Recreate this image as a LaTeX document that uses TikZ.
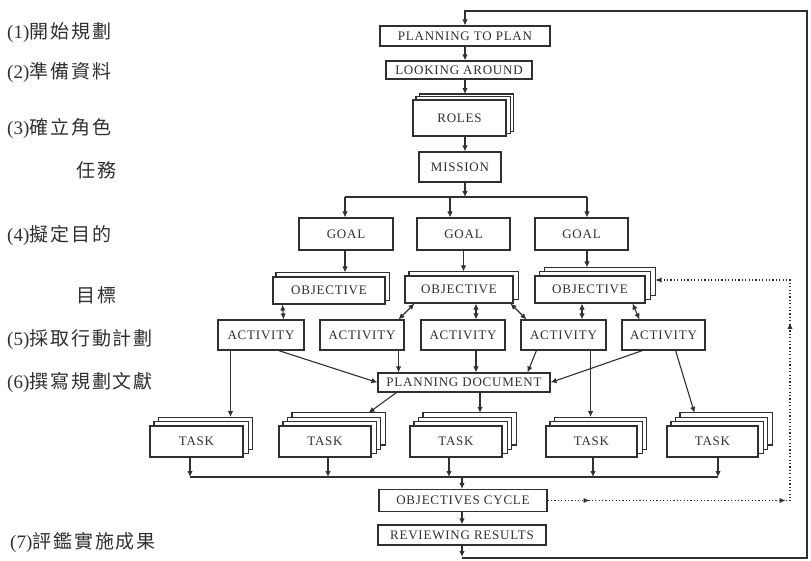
\documentclass[tikz,border=0pt]{standalone}
\usepackage{fontspec}
\setmainfont{Liberation Serif}
\newfontfamily\cjkfont[LetterSpace=10]{Noto Sans CJK TC}
\newfontfamily\boxfamily[LetterSpace=6]{Liberation Serif}
\usetikzlibrary{arrows.meta,calc,backgrounds,decorations.markings}

\definecolor{ink}{HTML}{303030}

\tikzset{
  box/.style={draw=ink, fill=white, line width=1.1pt, inner sep=0pt, text=ink,
    font=\boxfamily\fontsize{13}{13}\selectfont},
  stackcopy/.style={draw=ink, fill=white, line width=1.1pt},
  link/.style={draw=ink, line width=1.1pt},
  tip/.tip={Latex[length=6pt,width=5.5pt]},
  arr/.style={link, -tip},
  twoway/.style={link, tip-tip},
  dotline/.style={draw=ink, line width=1.2pt, dash pattern=on 1.2pt off 2.2pt},
  lab/.style={inner sep=0pt, text=ink, font=\fontsize{19}{19}\selectfont},
}

% copies stacked up and to the right behind a box: node, count, dx, dy
\newcommand\stackbehind[4]{%
  \foreach \k in {#2,...,1}{%
    \draw[stackcopy] ($(#1.south west)+(#3*\k,-#4*\k)$) rectangle ($(#1.north east)+(#3*\k,-#4*\k)$);
  }}

\begin{document}
\begin{tikzpicture}[x=1pt,y=-1pt]
\useasboundingbox (0,0) rectangle (811,561);

% ---- step labels ----
\node[lab, anchor=west] (l1) at (7,33)  {(1)\cjkfont 開始規劃};
\node[lab, anchor=west] (l2) at (7,72)  {(2)\cjkfont 準備資料};
\node[lab, anchor=west] (l3) at (7,128) {(3)\cjkfont 確立角色};
\node[lab, anchor=east] (lm) at (117,170) {\cjkfont 任務};
\node[lab, anchor=west] (l4) at (7,235) {(4)\cjkfont 擬定目的};
\node[lab, anchor=east] (lo) at (117,295) {\cjkfont 目標};
\node[lab, anchor=west] (l5) at (7,340) {(5)\cjkfont 採取行動計劃};
\node[lab, anchor=west] (l6) at (7,382) {(6)\cjkfont 撰寫規劃文獻};
\node[lab, anchor=west] (l7) at (10,542) {(7)\cjkfont 評鑑實施成果};

% ---- boxes ----
\node[box, minimum width=170, minimum height=20] (ptp) at (465,36) {PLANNING TO PLAN};
\node[box, minimum width=146, minimum height=18] (look) at (459,70) {LOOKING AROUND};
\node[box, minimum width=93, minimum height=36] (roles) at (459.5,118) {ROLES};
\node[box, minimum width=82, minimum height=30] (mission) at (460,167) {MISSION};

\node[box, minimum width=94, minimum height=32] (goal1) at (346,234) {GOAL};
\node[box, minimum width=93, minimum height=32] (goal2) at (463.5,234) {GOAL};
\node[box, minimum width=93, minimum height=32] (goal3) at (581.5,234) {GOAL};

\node[box, minimum width=112, minimum height=27] (obj1) at (329,290.5) {OBJECTIVE};
\node[box, minimum width=108, minimum height=27] (obj2) at (459,289.5) {OBJECTIVE};
\node[box, minimum width=110, minimum height=27] (obj3) at (590,289.5) {OBJECTIVE};

\node[box, minimum width=86, minimum height=30] (act1) at (261,335) {ACTIVITY};
\node[box, minimum width=84, minimum height=30] (act2) at (362,335) {ACTIVITY};
\node[box, minimum width=84, minimum height=30] (act3) at (463,335) {ACTIVITY};
\node[box, minimum width=85, minimum height=30] (act4) at (563.5,335) {ACTIVITY};
\node[box, minimum width=83, minimum height=30] (act5) at (663.5,335) {ACTIVITY};

\node[box, minimum width=172, minimum height=19] (pd) at (464,382.5) {PLANNING DOCUMENT};

\node[box, minimum width=93, minimum height=31] (task1) at (196.5,441.5) {TASK};
\node[box, minimum width=92, minimum height=31] (task2) at (325,441.5) {TASK};
\node[box, minimum width=92, minimum height=31] (task3) at (456,441.5) {TASK};
\node[box, minimum width=91, minimum height=31] (task4) at (591.5,441.5) {TASK};
\node[box, minimum width=91, minimum height=31] (task5) at (712.5,441.5) {TASK};

\node[box, minimum width=168, minimum height=22] (oc) at (463,500.5) {OBJECTIVES CYCLE};
\node[box, minimum width=168, minimum height=20] (rr) at (462,535) {REVIEWING RESULTS};

% ---- stacked copies behind the multiple boxes ----
\begin{scope}[on background layer]
  \stackbehind{roles}{2}{3.5}{2.7}
  \stackbehind{obj1}{1}{3.5}{4}
  \stackbehind{obj2}{1}{4.5}{4}
  \stackbehind{obj3}{2}{5}{4}
  \stackbehind{task1}{2}{4.5}{4.2}
  \stackbehind{task2}{3}{4.5}{4.2}
  \stackbehind{task3}{3}{4.5}{4.2}
  \stackbehind{task4}{2}{4.5}{4.2}
  \stackbehind{task5}{3}{4.5}{4.2}
\end{scope}

% ---- top spine ----
\draw[arr] (ptp.south) -- (ptp.south |- look.north);
\draw[arr] (ptp.south |- look.south) -- ($(ptp.south |- roles.north)+(0,-5.4)$);
\draw[arr] (ptp.south |- roles.south) -- (ptp.south |- mission.north);

% ---- mission to goals ----
\coordinate (gbusL) at (345,197);
\coordinate (gbusM) at (450,197);
\coordinate (gbusR) at (587,197);
\draw[arr] (ptp.south |- mission.south) -- (ptp.south |- gbusL);
\draw[link] (gbusL) -- (gbusR);
\draw[arr] (gbusL) -- (gbusL |- goal1.north);
\draw[arr] (gbusM) -- (gbusM |- goal2.north);
\draw[arr] (gbusR) -- (gbusR |- goal3.north);

% ---- goals to objectives ----
\draw[arr] (gbusL |- goal1.south) -- ($(gbusL |- obj1.north)+(0,-4)$);
\draw[arr] (goal2.south) -- ($(goal2.south |- obj2.north)+(0,-4)$);
\draw[arr] (gbusR |- goal3.south) -- ($(gbusR |- obj3.north)+(0,-8)$);

% ---- objectives <-> activities ----
\draw[twoway] ($(obj1.south west)+(10,0)$) -- ($(act1.north east)+(-21,0)$);
\draw[twoway] ($(obj2.south west)+(10,0)$) -- ($(act2.north east)+(-6,0)$);
\draw[twoway] ($(obj2.south)+(17,0)$) -- ($(act3.north)+(13,0)$);
\draw[twoway] ($(obj2.south east)+(-3,0)$) -- ($(act4.north west)+(6,0)$);
\draw[twoway] ($(obj3.south)+(-8,0)$) -- ($(act4.north)+(18.5,0)$);
\draw[twoway] ($(obj3.south east)+(-13,0)$) -- ($(act5.north west)+(18,0)$);

% ---- activities to planning document ----
\coordinate (a1b) at ($(act1.south west)+(13,0)$);
\coordinate (a2b) at ($(act2.south east)+(-6,0)$);
\coordinate (a3b) at ($(act3.south)+(13,0)$);
\coordinate (a4b) at ($(act4.south east)+(-16,0)$);
\coordinate (pdb) at ($(pd.south)+(16,0)$);
\draw[arr] ($(act1.south east)+(-26,0)$) -- (pd.west);
\draw[arr] (a2b) -- (a2b |- pd.north);
\draw[arr] (a3b) -- (a3b |- pd.north);
\draw[arr] ($(act4.south west)+(16,0)$) -- ($(pd.north east)+(-23,0)$);
\draw[arr] ($(act5.south west)+(21,0)$) -- (pd.east);

% ---- into the tasks ----
\draw[arr] (a1b) -- ($(a1b |- task1.north)+(0,-8.4)$);
\draw[arr] ($(pd.south west)+(19,0)$) -- ($(task2.north east)+(-3,-12.6)$);
\draw[arr] (pdb) -- ($(pdb |- task3.north)+(0,-12.6)$);
\draw[arr] (a4b) -- ($(a4b |- task4.north)+(0,-8.4)$);
\draw[arr] ($(act5.south east)+(-30,0)$) -- ($(task5.north west)+(28,-12.6)$);

% ---- tasks to the collecting line ----
\coordinate (tb1) at (190,477);
\coordinate (tb2) at (328,477);
\coordinate (tb3) at (449,477);
\coordinate (tb4) at (593,477);
\coordinate (tb5) at (718,477);
\draw[arr] (task1.south -| tb1) -- (tb1);
\draw[arr] (task2.south -| tb2) -- (tb2);
\draw[arr] (task3.south -| tb3) -- (tb3);
\draw[arr] (task4.south -| tb4) -- (tb4);
\draw[arr] (task5.south -| tb5) -- (tb5);
\draw[link] (tb1) -- (tb5);
\draw[arr] (rr.north |- tb1) -- (rr.north |- oc.north);
\draw[arr] (rr.north |- oc.south) -- (rr.north);

% ---- return loop to the start ----
\coordinate (loopB) at (807,558);
\coordinate (loopT) at (807,11);
\draw[arr] (rr.south) -- ($(rr.south |- loopB)+(0,-1)$);
\draw[arr] (rr.south |- loopB) -- (loopB) -- (loopT) -- (ptp.north |- loopT) -- (ptp.north);

% ---- dotted objectives cycle ----
\coordinate (dcx) at (790,0);
\coordinate (dtop) at (790,280);
\draw[dotline, postaction={decorate},
  decoration={markings,
    mark=at position 42pt with {\arrow{tip}},
    mark=at position 238pt with {\arrow{tip}},
    mark=at position 420pt with {\arrow{tip}},
    mark=at position 1 with {\arrow{tip}}}]
  (oc.east) -- (oc.east -| dcx) -- (dtop) -- ($(obj3.east)+(10,-9.5)$);

\end{tikzpicture}
\end{document}
